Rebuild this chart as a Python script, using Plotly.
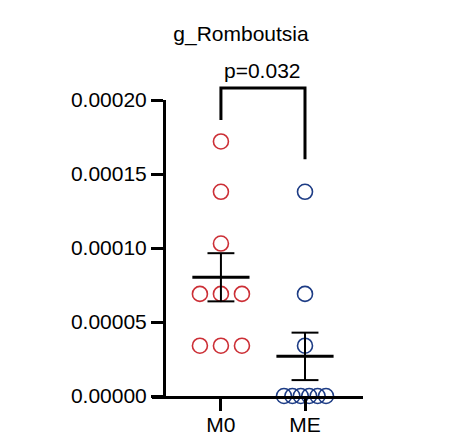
import numpy as np
import plotly.graph_objects as go

title = "g_Romboutsia"
groups = ["M0", "ME"]
m0_values = [0.000172, 0.000138, 0.000103, 0.000069, 0.000069, 0.000069,
             0.000034, 0.000034, 0.000034]
me_values = [0.000138, 0.000069, 0.000034, 0.0, 0.0, 0.0, 0.0, 0.0, 0.0]
p_label = "p=0.032"
y_ticks = [0.0, 0.00005, 0.00010, 0.00015, 0.00020]

colors = ["#cc2f36", "#1d3c85"]
font = "Liberation Sans, Arial, sans-serif"
x_range = [-0.82, 1.69]
y_range = [0, 0.0002]

# the page body adds 8px around the figure, so pull everything up/left by that
W, H = 461, 436
off = 8


def spread(values, center):
    # put equal values side by side, like a scatter dot plot
    xs = []
    vals = np.array(values)
    for j, v in enumerate(vals):
        same = list(np.where(vals == v)[0])
        n = len(same)
        step = min(0.25, 0.5 / max(n - 1, 1))
        k = same.index(j)
        xs.append(center + (k - (n - 1) / 2) * step)
    return xs


fig = go.Figure()

for i, (name, vals) in enumerate(zip(groups, [m0_values, me_values])):
    fig.add_trace(go.Scatter(
        x=spread(vals, i), y=vals, mode="markers", cliponaxis=False,
        marker=dict(symbol="circle-open", size=15, color=colors[i],
                    line=dict(width=1.6, color=colors[i])),
        showlegend=False))

for i, vals in enumerate([m0_values, me_values]):
    v = np.array(vals)
    mean = v.mean()
    sem = v.std(ddof=1) / np.sqrt(len(v))
    # mean line
    fig.add_trace(go.Scatter(x=[i - 0.34, i + 0.34], y=[mean, mean], mode="lines",
                             line=dict(color="black", width=3), showlegend=False))
    # sem whisker with caps
    fig.add_trace(go.Scatter(
        x=[i, i, None, i - 0.16, i + 0.16, None, i - 0.16, i + 0.16],
        y=[mean - sem, mean + sem, None, mean + sem, mean + sem, None, mean - sem, mean - sem],
        mode="lines", line=dict(color="black", width=2), showlegend=False))


def px(x):
    return (x - x_range[0]) / (x_range[1] - x_range[0])


def py(y):
    return (y - y_range[0]) / (y_range[1] - y_range[0])


# significance bracket
top = max(m0_values + me_values) * 1.21
left_end = max(m0_values) + 0.0000145
right_end = max(me_values) + 0.000022
fig.add_shape(type="path", xref="paper", yref="paper",
              path=f"M {px(0)} {py(left_end)} L {px(0)} {py(top)} L {px(1)} {py(top)} L {px(1)} {py(right_end)}",
              line=dict(color="black", width=3))
fig.add_annotation(x=px(0.5), y=py(top), xref="paper", yref="paper", text=p_label,
                   showarrow=False, yanchor="bottom", yshift=4,
                   font=dict(size=21, color="black", family=font))

fig.update_layout(
    width=W, height=H,
    margin=dict(l=152 - off, r=98 + off, t=100 - off, b=40 + off),
    paper_bgcolor="white", plot_bgcolor="white",
    font=dict(family=font, size=21, color="black"),
    title=dict(text=title, x=(241 - off) / W, xref="container", xanchor="center",
               y=1 - (34 - off) / H, yanchor="middle", font=dict(size=21)),
)
fig.update_xaxes(range=x_range, tickvals=[0, 1], ticktext=groups, automargin=False,
                 showline=True, linecolor="black", linewidth=3,
                 ticks="outside", ticklen=12, tickwidth=3, tickcolor="black",
                 ticklabelstandoff=-4,
                 showgrid=False, zeroline=False)
fig.update_yaxes(range=y_range, tickvals=y_ticks, tickformat=".5f", automargin=False,
                 anchor="free", position=12 / 211,
                 showline=True, linecolor="black", linewidth=3,
                 ticks="outside", ticklen=12, tickwidth=3, tickcolor="black",
                 showgrid=False, zeroline=False)

fig.write_html("out.html")
